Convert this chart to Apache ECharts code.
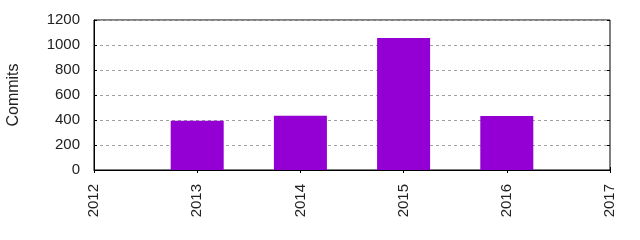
<!DOCTYPE html>
<html><head><meta charset="utf-8">
<script src="https://cdn.jsdelivr.net/npm/echarts@6/dist/echarts.min.js"></script>
<style>html,body{margin:0;padding:0;background:#fff}#c{width:640px;height:240px}</style>
</head><body><div id="c"></div>
<script>
const years = [2013, 2014, 2015, 2016];
const commits = [394, 434, 1056, 432];
const yTicks = [0, 200, 400, 600, 800, 1000, 1200];
const xTicks = [2012, 2013, 2014, 2015, 2016, 2017];

const chart = echarts.init(document.getElementById('c'));
const font = {fontFamily: 'Liberation Sans', fontSize: 15, color: '#222'};
chart.setOption({
  animation: false,
  grid: {left: 94, right: 30, top: 20, bottom: 70, show: true, borderColor: '#000', borderWidth: 1,
         backgroundColor: 'transparent', containLabel: false, outerBoundsMode: 'none'},
  xAxis: [{
    type: 'value', min: xTicks[0], max: xTicks[xTicks.length-1], interval: 1,
    axisLine: {show: true, lineStyle: {color: '#000'}},
    axisTick: {show: true, inside: true, length: 3, lineStyle: {color: '#000'}},
    splitLine: {show: false},
    axisLabel: Object.assign({rotate: 90, margin: 14, formatter: v => String(v)}, font)
  }, {
    type: 'value', position: 'top', min: xTicks[0], max: xTicks[xTicks.length-1], interval: 1,
    axisLine: {show: false},
    axisTick: {show: true, inside: true, length: 3, lineStyle: {color: '#000'}},
    splitLine: {show: false}, axisLabel: {show: false}
  }],
  yAxis: [{
    type: 'value', min: yTicks[0], max: yTicks[yTicks.length-1], interval: 200,
    name: 'Commits', nameLocation: 'middle', nameGap: 72, nameRotate: 90,
    nameTextStyle: Object.assign({}, font, {fontSize: 16}),
    axisLine: {show: true, lineStyle: {color: '#000'}},
    axisTick: {show: true, inside: true, length: 3, lineStyle: {color: '#000'}},
    splitLine: {show: true, lineStyle: {color: '#a0a0a0', type: [3, 3], width: 1}},
    axisLabel: Object.assign({margin: 14, formatter: v => String(v)}, font)
  }, {
    type: 'value', position: 'right', min: yTicks[0], max: yTicks[yTicks.length-1], interval: 200,
    axisLine: {show: false},
    axisTick: {show: true, inside: true, length: 3, lineStyle: {color: '#000'}},
    splitLine: {show: false}, axisLabel: {show: false}
  }],
  series: [{
    type: 'bar', barWidth: 53,
    itemStyle: {color: '#9400d3'},
    data: years.map((y, i) => [y, commits[i]])
  }]
});
</script></body></html>
